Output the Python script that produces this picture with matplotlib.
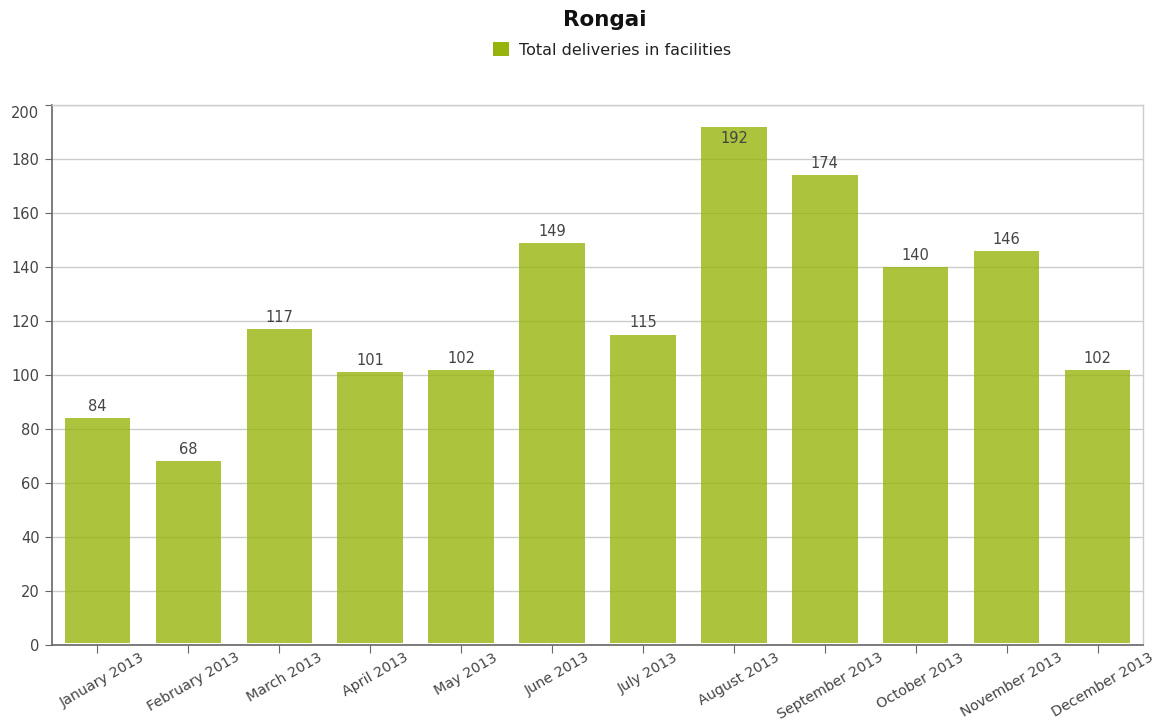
import matplotlib
matplotlib.use("Agg")
import matplotlib.pyplot as plt
import matplotlib.transforms as mtransforms
from matplotlib.patches import Patch

months = ["January 2013", "February 2013", "March 2013", "April 2013", "May 2013",
          "June 2013", "July 2013", "August 2013", "September 2013", "October 2013",
          "November 2013", "December 2013"]
deliveries = [84, 68, 117, 101, 102, 149, 115, 192, 174, 140, 146, 102]
series_name = "Total deliveries in facilities"
title = "Rongai"

color = "#97b40c"
fig = plt.figure(figsize=(11.62, 7.21), dpi=100)
ax = fig.add_axes([52/1162, 1-645/721, (1143-52)/1162, (645-105)/721])

x = list(range(len(months)))
ax.bar(x, [v - 0.7 for v in deliveries], bottom=0.7, width=0.72, color=color, alpha=0.8,
       edgecolor="none", zorder=3)
for xi, v in zip(x, deliveries):
    if v > 185:
        ax.text(xi, v - 1.8, str(v), ha="center", va="top", fontsize=10.5, color="#444444", zorder=4)
    else:
        ax.text(xi, v + 1.5, str(v), ha="center", va="bottom", fontsize=10.5, color="#444444", zorder=4)

ax.set_xlim(-0.5, len(months) - 0.5)
ax.set_ylim(0, 200)
ax.set_yticks(range(0, 201, 20))
ax.set_xticks(x)
ax.set_xticklabels(months, rotation=30, ha="center", va="top", fontsize=10.3, color="#444444")
ax.tick_params(axis="y", labelsize=10.5, labelcolor="#444444", color="#666666", length=5, pad=4)
ax.tick_params(axis="x", color="#666666", length=6, pad=0)
ax.yaxis.grid(True, color="#cccccc", linewidth=1, zorder=0)
ax.set_axisbelow(True)
for s in ["left", "bottom"]:
    ax.spines[s].set_color("#666666")
    ax.spines[s].set_linewidth(1.2)
for s in ["top", "right"]:
    ax.spines[s].set_color("#cccccc")
    ax.spines[s].set_linewidth(1)

fig.canvas.draw()
top_lbl = ax.get_yticklabels()[-1]
top_lbl.set_transform(top_lbl.get_transform() + mtransforms.ScaledTranslation(0, -7/100, fig.dpi_scale_trans))
for lbl in ax.get_xticklabels():
    lbl.set_transform(lbl.get_transform() + mtransforms.ScaledTranslation(5/100, 3/100, fig.dpi_scale_trans))

fig.text(605/1162, 1-20/721, title, ha="center", va="center", fontsize=15.5, fontweight="bold", color="#111111")
fig.legend(handles=[Patch(facecolor=color, edgecolor="none", label=series_name)],
           loc="center", bbox_to_anchor=(612/1162, 1-50/721), frameon=False, fontsize=11.5,
           handlelength=1.0, handleheight=1.0, handletextpad=0.6, labelcolor="#222222")

fig.savefig("out.png", dpi=100)
